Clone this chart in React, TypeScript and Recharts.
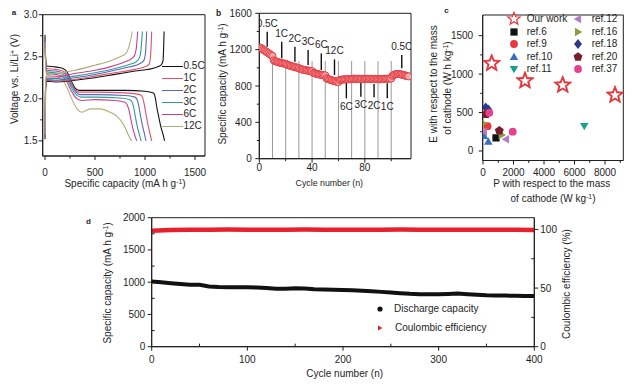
import React from "react";
import {
  LineChart,
  Line,
  XAxis,
  YAxis,
  ReferenceArea,
  ReferenceLine,
  ScatterChart,
  Scatter,
  ComposedChart,
} from "recharts";

const FONT = '"Liberation Sans", Arial, Helvetica, sans-serif';
const INK = "#1e1e1e";

// ---------------- a: charge / discharge profiles, [capacity mAh/g, voltage V]
const rateNames = ["0.5C", "1C", "2C", "3C", "6C", "12C"];
const rateColors = ["#111111", "#e0506a", "#5a68b4", "#2a9c9a", "#c8408c", "#b0ad78"];

const charge05 = [[0, 1.52], [6, 2.1], [15, 2.21], [100, 2.2], [300, 2.22], [500, 2.25], [700, 2.29], [900, 2.33], [1100, 2.37], [1160, 2.4], [1180, 2.45], [1186, 2.6], [1191, 2.8]];
const charge1 = [[0, 1.55], [6, 2.12], [15, 2.22], [100, 2.21], [300, 2.23], [500, 2.27], [700, 2.31], [900, 2.35], [1000, 2.38], [1040, 2.41], [1055, 2.5], [1062, 2.65], [1067, 2.8]];
const charge2 = [[0, 1.56], [6, 2.14], [15, 2.23], [100, 2.22], [300, 2.25], [500, 2.29], [700, 2.34], [850, 2.38], [950, 2.42], [990, 2.46], [1005, 2.55], [1012, 2.68], [1017, 2.8]];
const charge3 = [[0, 1.56], [6, 2.15], [15, 2.24], [100, 2.24], [300, 2.27], [500, 2.31], [700, 2.36], [850, 2.41], [910, 2.44], [945, 2.49], [960, 2.58], [968, 2.7], [973, 2.8]];
const charge6 = [[0, 1.57], [6, 2.17], [15, 2.26], [100, 2.26], [300, 2.3], [500, 2.34], [650, 2.38], [800, 2.44], [870, 2.48], [900, 2.53], [915, 2.62], [922, 2.72], [927, 2.8]];
const charge12 = [[0, 1.58], [6, 2.2], [15, 2.29], [100, 2.3], [300, 2.34], [500, 2.4], [650, 2.45], [750, 2.5], [810, 2.54], [840, 2.62], [860, 2.72], [873, 2.8]];

const discharge05 = [[0, 2.76], [8, 2.45], [20, 2.39], [100, 2.38], [180, 2.36], [220, 2.32], [260, 2.22], [300, 2.13], [340, 2.1], [500, 2.1], [800, 2.1], [1000, 2.09], [1085, 2.07], [1105, 2.0], [1115, 1.92], [1135, 1.8], [1160, 1.66], [1180, 1.58], [1195, 1.5]];
const discharge1 = [[0, 2.74], [8, 2.43], [20, 2.36], [100, 2.35], [180, 2.33], [220, 2.29], [260, 2.2], [300, 2.11], [340, 2.08], [500, 2.08], [800, 2.07], [950, 2.05], [975, 2.02], [990, 1.95], [1005, 1.85], [1025, 1.72], [1045, 1.61], [1067, 1.5]];
const discharge2 = [[0, 2.73], [8, 2.41], [20, 2.34], [100, 2.33], [180, 2.31], [220, 2.27], [265, 2.16], [310, 2.08], [350, 2.05], [500, 2.05], [800, 2.04], [900, 2.02], [925, 1.98], [940, 1.9], [955, 1.8], [975, 1.68], [995, 1.58], [1010, 1.5]];
const discharge3 = [[0, 2.72], [8, 2.4], [20, 2.32], [100, 2.31], [180, 2.29], [220, 2.24], [270, 2.12], [320, 2.04], [360, 2.02], [500, 2.02], [750, 2.01], [850, 1.99], [875, 1.95], [890, 1.88], [905, 1.78], [925, 1.66], [945, 1.57], [960, 1.5]];
const discharge6 = [[0, 2.7], [8, 2.38], [20, 2.3], [100, 2.29], [170, 2.27], [210, 2.22], [260, 2.1], [320, 2.0], [370, 1.98], [500, 1.99], [700, 1.98], [800, 1.96], [825, 1.92], [845, 1.84], [862, 1.74], [880, 1.64], [900, 1.56], [917, 1.5]];
const discharge12 = [[0, 2.68], [8, 2.35], [20, 2.28], [100, 2.27], [150, 2.25], [200, 2.18], [260, 2.02], [320, 1.88], [370, 1.84], [450, 1.88], [550, 1.88], [650, 1.84], [720, 1.79], [770, 1.72], [800, 1.66], [830, 1.58], [850, 1.53], [867, 1.5]];

const chargeCurves = [charge05, charge1, charge2, charge3, charge6, charge12];
const dischargeCurves = [discharge05, discharge1, discharge2, discharge3, discharge6, discharge12];

const aXDomain = [-23, 1600];
const aYDomain = [1.32, 3.0];
const aXTicks = [0, 250, 500, 750, 1000, 1250, 1500];
const aXMajor = [0, 500, 1000, 1500];
const aYTicks = [1.5, 1.75, 2.0, 2.25, 2.5, 2.75, 3.0];
const aYMajor = [1.5, 2.0, 2.5, 3.0];

// ---------------- b: rate capability, capacity per cycle
const bCapacity = [
  1222, 1212, 1200, 1190, 1180, 1170, 1160, 1150, 1140, 1130,
  1082, 1074, 1068, 1063, 1059, 1055, 1052, 1049, 1046, 1044,
  1036, 1030, 1025, 1020, 1016, 1012, 1008, 1004, 1000, 996,
  988, 984, 980, 977, 974, 971, 969, 967, 965, 963,
  945, 940, 936, 932, 929, 926, 923, 921, 919, 917,
  885, 878, 872, 867, 862, 858, 854, 850, 847, 844,
  866, 869, 871, 872, 873, 874, 874, 875, 875, 875,
  880, 880, 879, 879, 879, 878, 878, 878, 877, 877,
  879, 879, 878, 878, 878, 877, 877, 877, 876, 876,
  874, 875, 876, 877, 878, 879, 880, 881, 882, 883,
  912, 922, 928, 931, 932, 931, 929, 926, 922, 918, 914, 910, 906,
];
const bSeparators = [10, 20, 30, 40, 50, 60, 70, 80, 90, 100];
const bSeparatorTop = 1075;
const bAnnoCycle = [6, 17, 27, 37, 47, 57, 66, 77, 87, 97, 108];
const bAnnoText = ["0.5C", "1C", "2C", "3C", "6C", "12C", "6C", "3C", "2C", "1C", "0.5C"];
const bAnnoLow = [1232, 1104, 1067, 1030, 976, 921, 664, 682, 675, 664, 994];
const bAnnoHigh = [1397, 1287, 1232, 1196, 1159, 1093, 836, 847, 822, 829, 1140];
const bAnnoAbove = [true, true, true, true, true, true, false, false, false, false, true];

const bXDomain = [0, 115];
const bYDomain = [0, 1600];
const bXTicks = [0, 20, 40, 60, 80, 100];
const bXMajor = [0, 40, 80];
const bYTicks = [0, 200, 400, 600, 800, 1000, 1200, 1400, 1600];
const bYMajor = [0, 400, 800, 1200, 1600];

// ---------------- c: Ragone-type comparison, [P W/kg, E Wh/kg]
const ourWork = [[570, 1139], [2754, 913], [5226, 857], [8656, 727]];
const ref6 = [[852, 170]];
const ref9 = [[300, 322]];
const ref10 = [[66, 195], [348, 121]];
const ref11 = [[6643, 325]];
const ref12 = [[66, 251], [1508, 152]];
const ref16 = [[20, 360], [1226, 208]];
const ref18 = [[177, 568], [348, 540]];
const ref20 = [[197, 480], [1069, 264]];
const ref37 = [[413, 497], [1947, 251]];

const cSeries = [
  { name: "Our work", kind: "star", color: "#e3363c", pts: ourWork },
  { name: "ref.6", kind: "square", color: "#111111", pts: ref6 },
  { name: "ref.9", kind: "circle", color: "#e8393a", pts: ref9 },
  { name: "ref.10", kind: "triUp", color: "#3a6fc0", pts: ref10 },
  { name: "ref.11", kind: "triDown", color: "#17a08c", pts: ref11 },
  { name: "ref.12", kind: "triLeft", color: "#b27cc6", pts: ref12 },
  { name: "ref.16", kind: "triRight", color: "#8d9a3c", pts: ref16 },
  { name: "ref.18", kind: "diamond", color: "#2c3a8c", pts: ref18 },
  { name: "ref.20", kind: "pentagon", color: "#7a1e2e", pts: ref20 },
  { name: "ref.37", kind: "circle", color: "#e8408c", pts: ref37 },
];

const cXDomain = [-20, 9200];
const cYDomain = [-124, 1769];
const cXTicks = [0, 1000, 2000, 3000, 4000, 5000, 6000, 7000, 8000, 9000];
const cXMajor = [0, 2000, 4000, 6000, 8000];
const cYTicks = [0, 250, 500, 750, 1000, 1250, 1500];
const cYMajor = [0, 500, 1000, 1500];

// ---------------- d: long cycling at a fixed rate
const dCycles = [0, 10, 20, 30, 40, 50, 60, 70, 80, 90, 100, 110, 120, 130, 140, 150, 160, 170, 180, 190, 200, 210, 220, 230, 240, 250, 260, 270, 280, 290, 300, 310, 320, 330, 340, 350, 360, 370, 380, 390, 400];
const dDischarge = [1012, 1000, 985, 972, 962, 960, 935, 925, 922, 920, 920, 918, 910, 900, 900, 905, 902, 890, 885, 882, 879, 874, 868, 860, 850, 840, 830, 820, 815, 812, 812, 818, 826, 815, 805, 798, 795, 792, 788, 786, 785];
const dCeCycles = [0, 20, 40, 60, 80, 100, 120, 140, 160, 180, 200, 220, 240, 260, 280, 300, 320, 340, 360, 380, 400];
const dCe = [98.9, 99.6, 99.8, 99.7, 99.9, 99.8, 99.8, 99.7, 99.9, 99.8, 99.8, 99.7, 99.8, 99.9, 99.8, 99.7, 99.8, 99.8, 99.7, 99.8, 99.6];

const dXTicks = [0, 50, 100, 150, 200, 250, 300, 350, 400];
const dXMajor = [0, 100, 200, 300, 400];
const dYTicks = [0, 250, 500, 750, 1000, 1250, 1500, 1750, 2000];
const dYMajor = [0, 500, 1000, 1500, 2000];
const dRTicks = [0, 25, 50, 75, 100];
const dRMajor = [0, 50, 100];

// ---------------- helpers
type TickOpts = {
  side: "left" | "right" | "bottom";
  majors: number[];
  fontSize: number;
  len: number;
  minorLen: number;
  minorIn?: boolean;
  gap: number;
  fmt?: (v: number) => string;
};

function makeTick(o: TickOpts) {
  const fmt = o.fmt || ((v: number) => String(v));
  return (p: any) => {
    const x = Number(p.x);
    const y = Number(p.y);
    const v = Number(p.payload && p.payload.value);
    const major = o.majors.some((m) => Math.abs(m - v) < 1e-9);
    const len = major ? o.len : o.minorLen;
    const dir = !major && o.minorIn ? -1 : 1;
    const ts = { fontFamily: FONT, fontSize: o.fontSize, fill: INK };
    if (o.side === "bottom") {
      return (
        <g>
          <line x1={x} x2={x} y1={y} y2={y + dir * len} stroke={INK} strokeWidth={1} />
          {major && (
            <text x={x} y={y + o.gap} dy="0.35em" textAnchor="middle" style={ts}>
              {fmt(v)}
            </text>
          )}
        </g>
      );
    }
    const s = o.side === "left" ? -1 : 1;
    return (
      <g>
        <line x1={x} x2={x + s * dir * len} y1={y} y2={y} stroke={INK} strokeWidth={1} />
        {major && (
          <text
            x={x + s * o.gap}
            y={y}
            dy="0.35em"
            textAnchor={o.side === "left" ? "end" : "start"}
            style={ts}
          >
            {fmt(v)}
          </text>
        )}
      </g>
    );
  };
}

const axisBase = {
  tickSize: 0,
  tickMargin: 0,
  tickLine: false,
  interval: 0 as const,
  axisLine: { stroke: INK, strokeWidth: 1 },
  allowDataOverflow: true,
};

function starPoints(cx: number, cy: number, R: number, r: number) {
  const pts: string[] = [];
  for (let i = 0; i < 10; i++) {
    const a = -Math.PI / 2 + (i * Math.PI) / 5;
    const rad = i % 2 === 0 ? R : r;
    pts.push(`${cx + rad * Math.cos(a)},${cy + rad * Math.sin(a)}`);
  }
  return pts.join(" ");
}

function polyPoints(cx: number, cy: number, R: number, n: number, rot: number) {
  const pts: string[] = [];
  for (let i = 0; i < n; i++) {
    const a = rot + (i * 2 * Math.PI) / n;
    pts.push(`${cx + R * Math.cos(a)},${cy + R * Math.sin(a)}`);
  }
  return pts.join(" ");
}

function marker(kind: string, cx: number, cy: number, color: string, legend = false) {
  switch (kind) {
    case "star":
      if (legend)
        return <polygon points={starPoints(cx, cy, 6.5, 2.8)} fill="#fff" stroke={color} strokeWidth={1.2} />;
      return (
        <g>
          <polygon points={starPoints(cx, cy, 9.5, 4.1)} fill={color} stroke={color} strokeWidth={0.8} />
          <polygon points={starPoints(cx, cy, 5.4, 2.3)} fill="#fff" />
        </g>
      );
    case "square":
      return <rect x={cx - 3.6} y={cy - 3.6} width={7.2} height={7.2} fill={color} />;
    case "circle":
      return <circle cx={cx} cy={cy} r={3.9} fill={color} />;
    case "triUp":
      return <polygon points={polyPoints(cx, cy + 0.6, 4.9, 3, -Math.PI / 2)} fill={color} />;
    case "triDown":
      return <polygon points={polyPoints(cx, cy - 0.6, 4.9, 3, Math.PI / 2)} fill={color} />;
    case "triLeft":
      return <polygon points={polyPoints(cx + 0.6, cy, 4.9, 3, Math.PI)} fill={color} />;
    case "triRight":
      return <polygon points={polyPoints(cx - 0.6, cy, 4.9, 3, 0)} fill={color} />;
    case "diamond":
      return <polygon points={`${cx},${cy - 4.9} ${cx + 4},${cy} ${cx},${cy + 4.9} ${cx - 4},${cy}`} fill={color} />;
    case "pentagon":
      return <polygon points={polyPoints(cx, cy, 4.7, 5, -Math.PI / 2)} fill={color} />;
    default:
      return <circle cx={cx} cy={cy} r={3.5} fill={color} />;
  }
}

function Txt(props: {
  x: number;
  y: number;
  size?: number;
  rotate?: boolean;
  left?: boolean;
  bold?: boolean;
  children: React.ReactNode;
}) {
  const { x, y, size = 10, rotate, left, bold, children } = props;
  const tf = left
    ? "translate(0,-50%)"
    : `translate(-50%,-50%)${rotate ? " rotate(-90deg)" : ""}`;
  return (
    <div
      style={{
        position: "absolute",
        left: x,
        top: y,
        transform: tf,
        fontSize: size,
        fontWeight: bold ? 700 : 400,
        whiteSpace: "nowrap",
        lineHeight: 1,
        color: INK,
      }}
    >
      {children}
    </div>
  );
}

const Sup = ({ children }: { children: React.ReactNode }) => (
  <sup style={{ fontSize: "0.68em", verticalAlign: "0.5em", lineHeight: 0 }}>{children}</sup>
);

const toPts = (arr: number[][]) => arr.map(([c, v]) => ({ c, v }));

// ---------------- panels
function PanelA() {
  return (
    <LineChart width={215} height={200} margin={{ top: 14.7, right: 10, bottom: 14, left: 0 }}>
      <XAxis
        {...axisBase}
        type="number"
        dataKey="c"
        domain={aXDomain}
        ticks={aXTicks}
        height={30}
        tick={makeTick({ side: "bottom", majors: aXMajor, fontSize: 10, len: 4, minorLen: 2.5, gap: 16.5 })}
      />
      <YAxis
        {...axisBase}
        type="number"
        domain={aYDomain}
        ticks={aYTicks}
        width={42.7}
        tick={makeTick({
          side: "left",
          majors: aYMajor,
          fontSize: 10,
          len: 4,
          minorLen: 2.5,
          gap: 5,
          fmt: (v) => v.toFixed(1),
        })}
      />
      {dischargeCurves.map((d, i) => (
        <Line
          key={"d" + i}
          data={toPts(d)}
          dataKey="v"
          type="monotone"
          stroke={rateColors[i]}
          strokeWidth={1.1}
          dot={false}
          isAnimationActive={false}
        />
      ))}
      {chargeCurves.map((d, i) => (
        <Line
          key={"c" + i}
          data={toPts(d)}
          dataKey="v"
          type="monotone"
          stroke={rateColors[i]}
          strokeWidth={1.1}
          dot={false}
          isAnimationActive={false}
        />
      ))}
      <ReferenceArea
        x1={aXDomain[0]}
        x2={aXDomain[1]}
        y1={aYDomain[0]}
        y2={aYDomain[1]}
        fill="none"
        stroke={INK}
        strokeWidth={1}
        ifOverflow="visible"
      />
    </LineChart>
  );
}

function PanelB() {
  const pts = bCapacity.map((q, i) => ({ n: i + 1, q }));
  const above = bAnnoCycle
    .map((n, i) => ({ n, q: bAnnoHigh[i], t: bAnnoText[i], up: bAnnoAbove[i] }))
    .filter((a) => a.up);
  const below = bAnnoCycle
    .map((n, i) => ({ n, q: bAnnoLow[i], t: bAnnoText[i], up: bAnnoAbove[i] }))
    .filter((a) => !a.up);
  const labelStyle = { fontFamily: FONT, fontSize: 10, fill: INK };
  return (
    <ScatterChart width={205} height={200} margin={{ top: 13.3, right: 9, bottom: 11.3, left: 0 }}>
      <XAxis
        {...axisBase}
        type="number"
        dataKey="n"
        domain={bXDomain}
        ticks={bXTicks}
        height={30}
        tick={makeTick({ side: "bottom", majors: bXMajor, fontSize: 10, len: 4, minorLen: 2.5, gap: 8.5 })}
      />
      <YAxis
        {...axisBase}
        type="number"
        dataKey="q"
        domain={bYDomain}
        ticks={bYTicks}
        width={44.3}
        tick={makeTick({ side: "left", majors: bYMajor, fontSize: 10, len: 4, minorLen: 2.5, gap: 7.5 })}
      />
      {bSeparators.map((n) => (
        <ReferenceLine
          key={"s" + n}
          segment={[
            { x: n, y: 0 },
            { x: n, y: bSeparatorTop },
          ]}
          stroke="#8c8c8c"
          strokeWidth={0.9}
        />
      ))}
      <Scatter
        data={pts}
        isAnimationActive={false}
        shape={(p: any) => (
          <circle cx={p.cx} cy={p.cy} r={3.6} fill="#f6a7aa" stroke="#e2343b" strokeWidth={0.9} />
        )}
      />
      {bAnnoCycle.map((n, i) => (
        <ReferenceLine
          key={"a" + i}
          segment={[
            { x: n, y: bAnnoLow[i] },
            { x: n, y: bAnnoHigh[i] },
          ]}
          stroke="#111"
          strokeWidth={1.4}
        />
      ))}
      <Scatter
        data={above}
        isAnimationActive={false}
        shape={(p: any) => (
          <text x={p.cx} y={p.cy - 5} textAnchor="middle" style={labelStyle}>
            {p.payload ? p.payload.t : ""}
          </text>
        )}
      />
      <Scatter
        data={below}
        isAnimationActive={false}
        shape={(p: any) => (
          <text x={p.cx} y={p.cy + 4.5} dy="0.72em" textAnchor="middle" style={labelStyle}>
            {p.payload ? p.payload.t : ""}
          </text>
        )}
      />
      <ReferenceArea
        x1={bXDomain[0]}
        x2={bXDomain[1]}
        y1={bYDomain[0]}
        y2={bYDomain[1]}
        fill="none"
        stroke={INK}
        strokeWidth={1}
        ifOverflow="visible"
      />
    </ScatterChart>
  );
}

function PanelC() {
  return (
    <ScatterChart width={211} height={215} margin={{ top: 15, right: 17.7, bottom: 24.5, left: 0 }}>
      <XAxis
        {...axisBase}
        type="number"
        dataKey="p"
        domain={cXDomain}
        ticks={cXTicks}
        height={30}
        tick={makeTick({ side: "bottom", majors: cXMajor, fontSize: 10, len: 4, minorLen: 2.5, gap: 11.5 })}
      />
      <YAxis
        {...axisBase}
        type="number"
        dataKey="e"
        domain={cYDomain}
        ticks={cYTicks}
        width={52.7}
        tick={makeTick({ side: "left", majors: cYMajor, fontSize: 10, len: 4, minorLen: 2.5, gap: 9.5 })}
      />
      {cSeries.map((s) => (
        <Scatter
          key={s.name}
          name={s.name}
          data={s.pts.map(([p, e]) => ({ p, e }))}
          isAnimationActive={false}
          shape={(pr: any) => marker(s.kind, pr.cx, pr.cy, s.color)}
        />
      ))}
      <ReferenceArea
        x1={cXDomain[0]}
        x2={cXDomain[1]}
        y1={cYDomain[0]}
        y2={cYDomain[1]}
        fill="none"
        stroke={INK}
        strokeWidth={1}
        ifOverflow="visible"
      />
    </ScatterChart>
  );
}

function PanelD() {
  const cap = dCycles.map((n, i) => ({ n, q: dDischarge[i] }));
  const ce = dCeCycles.map((n, i) => ({ n, ce: dCe[i] }));
  return (
    <ComposedChart width={500} height={180} margin={{ top: 12.7, right: 15.7, bottom: 13.3, left: 0 }}>
      <XAxis
        {...axisBase}
        type="number"
        dataKey="n"
        domain={[0, 400]}
        ticks={dXTicks}
        height={25}
        tick={makeTick({ side: "bottom", majors: dXMajor, fontSize: 10, len: 4, minorLen: 3, minorIn: true, gap: 12.5 })}
      />
      <YAxis
        {...axisBase}
        yAxisId="cap"
        type="number"
        domain={[0, 2000]}
        ticks={dYTicks}
        width={61.7}
        tick={makeTick({ side: "left", majors: dYMajor, fontSize: 10, len: 4, minorLen: 3, minorIn: true, gap: 6.5 })}
      />
      <YAxis
        {...axisBase}
        yAxisId="ce"
        orientation="right"
        type="number"
        domain={[0, 110]}
        ticks={dRTicks}
        width={40}
        tick={makeTick({ side: "right", majors: dRMajor, fontSize: 10, len: 4, minorLen: 3, minorIn: true, gap: 6 })}
      />
      <Line
        yAxisId="cap"
        data={cap}
        dataKey="q"
        type="linear"
        stroke="#111"
        strokeWidth={4}
        dot={false}
        isAnimationActive={false}
      />
      <Line
        yAxisId="ce"
        data={ce}
        dataKey="ce"
        type="linear"
        stroke="#e8202c"
        strokeWidth={4.5}
        dot={false}
        isAnimationActive={false}
      />
      <ReferenceArea
        yAxisId="cap"
        x1={0}
        x2={400}
        y1={0}
        y2={2000}
        fill="none"
        stroke={INK}
        strokeWidth={1}
        ifOverflow="visible"
      />
    </ComposedChart>
  );
}

export default function App() {
  const aLegendTop = 65.5;
  const aLegendStep = 12;
  const cLegendRow = [19.3, 32.3, 44, 56.7, 69];
  return (
    <div
      style={{
        position: "absolute",
        left: 0,
        top: 0,
        width: 641,
        height: 388,
        background: "#fff",
        fontFamily: FONT,
        color: INK,
        overflow: "hidden",
      }}
    >
      <div style={{ position: "absolute", left: 0, top: 0 }}>
        <PanelA />
      </div>
      <div style={{ position: "absolute", left: 215, top: 0 }}>
        <PanelB />
      </div>
      <div style={{ position: "absolute", left: 430, top: 0 }}>
        <PanelC />
      </div>
      <div style={{ position: "absolute", left: 90, top: 205 }}>
        <PanelD />
      </div>

      {/* panel letters */}
      <Txt x={14} y={12.5} size={8} bold>a</Txt>
      <Txt x={218.5} y={13} size={8.5} bold>b</Txt>
      <Txt x={446.5} y={10.5} size={8} bold>c</Txt>
      <Txt x={88.5} y={221.5} size={8} bold>d</Txt>

      {/* a titles + legend */}
      <Txt x={14.7} y={79} rotate>
        Voltage vs. Li/Li<Sup>+</Sup> (V)
      </Txt>
      <Txt x={125} y={184.3}>
        Specific capacity (mA h g<Sup>-1</Sup>)
      </Txt>
      {rateNames.map((r, i) => (
        <React.Fragment key={r}>
          <div
            style={{
              position: "absolute",
              left: 162,
              top: aLegendTop + i * aLegendStep,
              width: 21,
              borderTop: `1px solid ${rateColors[i]}`,
            }}
          />
          <Txt x={183.5} y={aLegendTop + i * aLegendStep + 0.5} left>
            {r}
          </Txt>
        </React.Fragment>
      ))}

      {/* b titles */}
      <Txt x={223.3} y={84} rotate>
        Specific capacity (mA h g<Sup>-1</Sup>)
      </Txt>
      <Txt x={329.3} y={183.3} size={8.8}>Cycle number (n)</Txt>

      {/* c titles + legend */}
      <Txt x={434} y={83.5} rotate>E with respect to the mass</Txt>
      <Txt x={448} y={88} rotate>
        of cathode (W h kg<Sup>-1</Sup>)
      </Txt>
      <Txt x={551.7} y={183.7}>P with respect to the mass</Txt>
      <Txt x={553} y={199.3}>
        of cathode (W kg<Sup>-1</Sup>)
      </Txt>
      {cSeries.map((s, i) => {
        const col = i < 5 ? 0 : 1;
        const row = i % 5;
        const iconX = col === 0 ? 514 : 578.3;
        const textX = col === 0 ? 526.7 : 591.7;
        const y = cLegendRow[row];
        return (
          <React.Fragment key={s.name}>
            <svg
              width={16}
              height={16}
              style={{ position: "absolute", left: iconX - 8, top: y - 8, overflow: "visible" }}
            >
              {marker(s.kind, 8, 8, s.color, true)}
            </svg>
            <Txt x={textX} y={y} left>
              {s.name}
            </Txt>
          </React.Fragment>
        );
      })}

      {/* d titles + legend */}
      <Txt x={107.5} y={283.3} rotate>
        Specific capacity (mA h g<Sup>-1</Sup>)
      </Txt>
      <Txt x={344.7} y={374.3}>Cycle number (n)</Txt>
      <Txt x={566.7} y={284.2} rotate>Coulombic efficiency (%)</Txt>
      <svg width={12} height={12} style={{ position: "absolute", left: 374, top: 303 }}>
        <circle cx={6} cy={6} r={2.6} fill="#111" />
      </svg>
      <Txt x={394} y={309} left>Discharge capacity</Txt>
      <svg width={12} height={12} style={{ position: "absolute", left: 374, top: 321.7 }}>
        <polygon points="4,3.5 8.5,6 4,8.5" fill="#e8202c" />
      </svg>
      <Txt x={395} y={327.7} left>Coulombic efficiency</Txt>
    </div>
  );
}
